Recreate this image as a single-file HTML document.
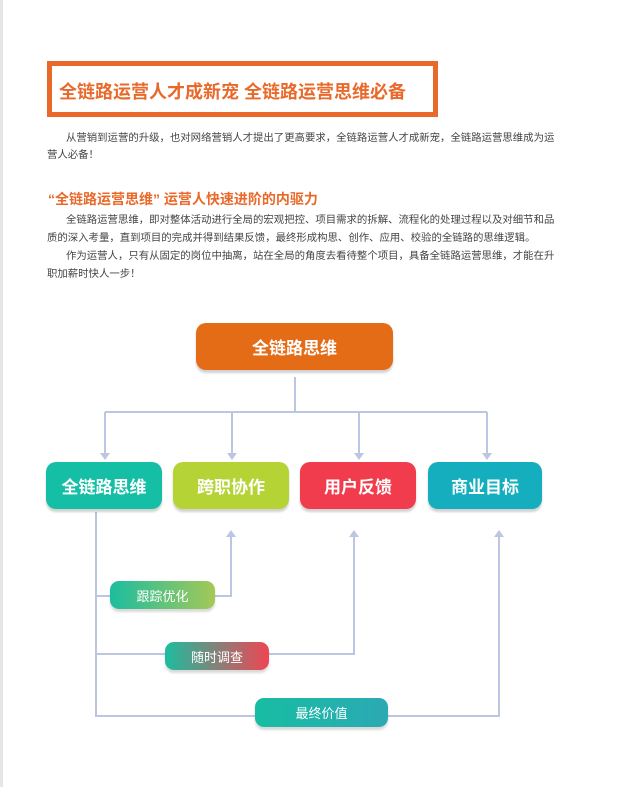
<!DOCTYPE html>
<html><head><meta charset="utf-8"><style>
body{margin:0;width:617px;height:787px;background:#fff;position:relative;overflow:hidden;font-family:"Liberation Sans","Noto Sans CJK SC",sans-serif;}
.a{position:absolute;white-space:nowrap}
.p{font-size:10.4px;color:#444;}
.box{position:absolute;border-radius:10px;color:#fff;font-weight:bold;font-size:17px;display:flex;align-items:center;justify-content:center;box-shadow:0 3px 2px rgba(0,0,0,0.18);}
.pill{position:absolute;border-radius:9px;color:#fff;font-size:13px;display:flex;align-items:center;justify-content:center;box-shadow:0 3px 2px rgba(0,0,0,0.15);}
</style></head><body>
<div style="position:absolute;left:0;top:0;width:3px;height:787px;background:#e6e6e6"></div>
<div style="position:absolute;left:47px;top:61px;width:381px;height:46px;border:5px solid #e8692a;"></div>
<div class="a" style="left:59px;top:78px;font-size:18px;font-weight:bold;color:#e8692a;">全链路运营人才成新宠 全链路运营思维必备</div>
<div class="a p" style="left:66px;top:129px;">从营销到运营的升级，也对网络营销人才提出了更高要求，全链路运营人才成新宠，全链路运营思维成为运</div>
<div class="a p" style="left:47px;top:146px;">营人必备！</div>
<div class="a" style="left:48px;top:189px;font-size:14px;font-weight:bold;color:#e8692a;">“全链路运营思维” 运营人快速进阶的内驱力</div>
<div class="a p" style="left:66px;top:211px;">全链路运营思维，即对整体活动进行全局的宏观把控、项目需求的拆解、流程化的处理过程以及对细节和品</div>
<div class="a p" style="left:47px;top:229px;">质的深入考量，直到项目的完成并得到结果反馈，最终形成构思、创作、应用、校验的全链路的思维逻辑。</div>
<div class="a p" style="left:66px;top:247px;">作为运营人，只有从固定的岗位中抽离，站在全局的角度去看待整个项目，具备全链路运营思维，才能在升</div>
<div class="a p" style="left:47px;top:265px;">职加薪时快人一步！</div>
<svg style="position:absolute;left:0;top:0" width="617" height="787">
<g stroke="#bcc6e2" stroke-width="2" fill="none">
<path d="M295 377V412M105 412H487M105 412V456M232 412V456M359 412V456M487 412V456"/>
<path d="M96 512V716H499V536M96 596H231V536M96 654H354V536"/>
</g>
<g fill="#bcc6e2">
<path d="M100 453L110 453L105 460Z"/><path d="M227 453L237 453L232 460Z"/><path d="M354 453L364 453L359 460Z"/><path d="M482 453L492 453L487 460Z"/>
<path d="M226 537L236 537L231 530Z"/><path d="M349 537L359 537L354 530Z"/><path d="M494 537L504 537L499 530Z"/>
</g>
</svg>
<div class="box" style="left:196px;top:323px;width:197px;height:47px;background:#e46c17;">全链路思维</div>
<div class="box" style="left:46px;top:462px;width:116px;height:47px;background:#14bfa5;">全链路思维</div>
<div class="box" style="left:173px;top:462px;width:116px;height:47px;background:#b5d334;">跨职协作</div>
<div class="box" style="left:300px;top:462px;width:116px;height:47px;background:#f03c4c;">用户反馈</div>
<div class="box" style="left:428px;top:462px;width:114px;height:47px;background:#14aebf;">商业目标</div>
<div class="pill" style="left:110px;top:581px;width:105px;height:28px;background:linear-gradient(90deg,#1cbd9f,#a4c857);">跟踪优化</div>
<div class="pill" style="left:165px;top:642px;width:104px;height:28px;background:linear-gradient(90deg,#1cbd9f,#ef4553);">随时调查</div>
<div class="pill" style="left:255px;top:698px;width:133px;height:29px;background:linear-gradient(90deg,#17bda2,#2ca9b4);">最终价值</div>
</body></html>
